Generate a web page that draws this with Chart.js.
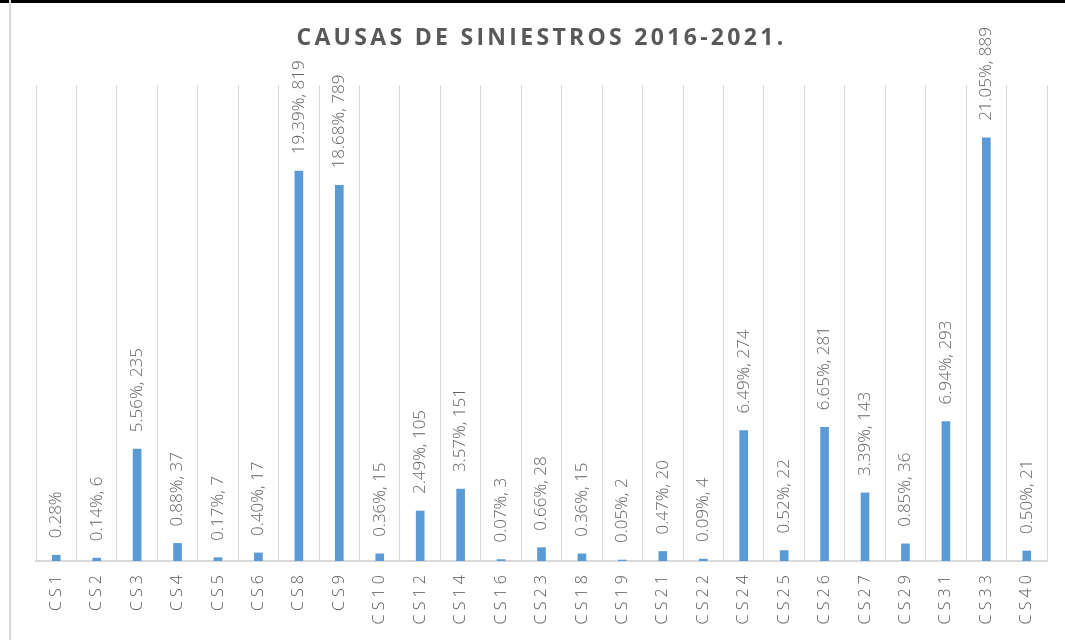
<!DOCTYPE html>
<html>
<head>
<meta charset="utf-8">
<script src="https://cdn.jsdelivr.net/npm/chart.js@4/dist/chart.umd.min.js"></script>
<style>
  html, body { margin: 0; padding: 0; background: #fff; }
  #wrap { position: relative; width: 1065px; height: 640px; overflow: hidden; }
  #topbar { position: absolute; left: 0; top: 0; width: 1065px; height: 3px; background: #000; }
  #leftline { position: absolute; left: 9px; top: 0; width: 2px; height: 640px; background: #d9d9d9; }
  canvas { position: absolute; left: 0; top: 0; }
</style>
</head>
<body>
<div id="wrap">
  <canvas id="chart" width="1065" height="640"></canvas>
  <div id="topbar"></div>
  <div id="leftline"></div>
</div>
<script>
const title = "CAUSAS DE SINIESTROS 2016-2021.";

const causes = ["CS1", "CS2", "CS3", "CS4", "CS5", "CS6", "CS8", "CS9", "CS10", "CS12", "CS14", "CS16", "CS23",
  "CS18", "CS19", "CS21", "CS22", "CS24", "CS25", "CS26", "CS27", "CS29", "CS31", "CS33", "CS40"];

const counts = [12, 6, 235, 37, 7, 17, 819, 789, 15, 105, 151, 3, 28,
  15, 2, 20, 4, 274, 22, 281, 143, 36, 293, 889, 21];

const percents = ["0.28%", "0.14%", "5.56%", "0.88%", "0.17%", "0.40%", "19.39%", "18.68%", "0.36%", "2.49%", "3.57%", "0.07%", "0.66%",
  "0.36%", "0.05%", "0.47%", "0.09%", "6.49%", "0.52%", "6.65%", "3.39%", "0.85%", "6.94%", "21.05%", "0.50%"];

// the first label is cut off in the original, only the percentage shows
const percentOnly = ["CS1"];

const textColor = "#595959";
const fontFamily = "'Open Sans', 'Noto Sans', sans-serif";

const barLabels = {
  id: "barLabels",
  afterDatasetsDraw(chart) {
    const ctx = chart.ctx;
    const meta = chart.getDatasetMeta(0);
    ctx.save();
    ctx.fillStyle = "#666";
    ctx.font = "300 17px " + fontFamily;
    ctx.textAlign = "left";
    ctx.textBaseline = "middle";
    meta.data.forEach((bar, i) => {
      const txt = percentOnly.includes(causes[i]) ? percents[i] : percents[i] + ", " + counts[i];
      ctx.save();
      ctx.translate(bar.x, bar.y - 17);
      ctx.rotate(-Math.PI / 2);
      ctx.fillText(txt, 0, 0);
      ctx.restore();
    });
    ctx.restore();
  }
};

const spacedTitle = {
  id: "spacedTitle",
  beforeDraw(chart) {
    const ctx = chart.ctx;
    const area = chart.chartArea;
    ctx.save();
    ctx.fillStyle = textColor;
    ctx.font = "bold 23px " + fontFamily;
    ctx.letterSpacing = "3.3px";
    ctx.textAlign = "center";
    ctx.textBaseline = "middle";
    ctx.fillText(title, (area.left + area.right) / 2, 38);
    ctx.restore();
  }
};

new Chart(document.getElementById("chart"), {
  type: "bar",
  data: {
    labels: causes,
    datasets: [{
      data: counts,
      backgroundColor: "#5b9bd5",
      barThickness: 8
    }]
  },
  options: {
    responsive: false,
    animation: false,
    layout: { padding: { left: 36, right: 18, top: 85, bottom: 0 } },
    plugins: {
      legend: { display: false },
      tooltip: { enabled: false }
    },
    scales: {
      x: {
        offset: true,
        grid: { display: true, offset: true, color: "#d9d9d9", lineWidth: 1, drawTicks: false },
        border: { display: true, color: "#d9d9d9", width: 2 },
        ticks: {
          color: textColor,
          font: { family: fontFamily, size: 16, weight: 300 },
          minRotation: 90,
          maxRotation: 90,
          autoSkip: false,
          padding: 14,
          // letters are spaced out in the original
          callback: (v, i) => causes[i].split("").join(" ")
        },
        afterFit: (scale) => { scale.height = 79; }
      },
      y: {
        display: false,
        min: 0,
        max: 1000
      }
    }
  },
  plugins: [spacedTitle, barLabels]
});
</script>
</body>
</html>
